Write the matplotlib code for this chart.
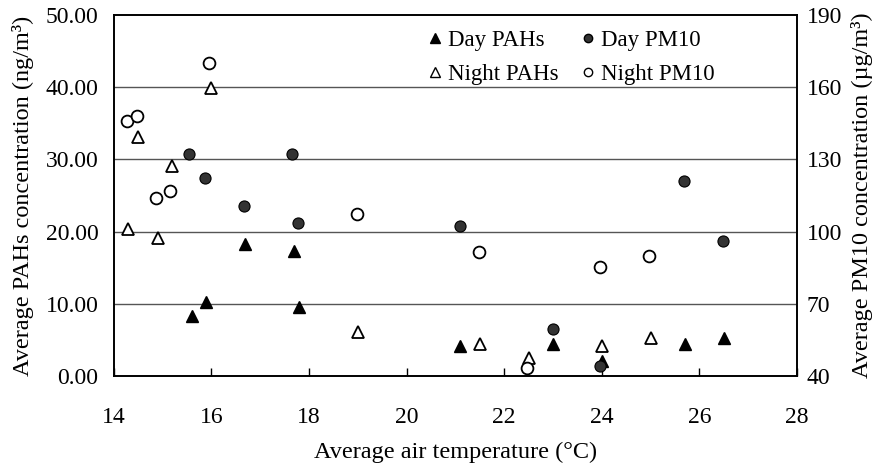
import matplotlib
matplotlib.use('Agg')
import matplotlib.pyplot as plt
from matplotlib.lines import Line2D

plt.rcParams['font.family'] = ['Liberation Serif', 'DejaVu Serif']

# Day / night PAHs (left axis, ng/m3)
day_pahs_t = [15.6, 15.9, 16.7, 17.7, 17.8, 21.1, 23.0, 24.0, 25.7, 26.5]
day_pahs = [8.3, 10.2, 18.3, 17.3, 9.5, 4.1, 4.4, 2.1, 4.4, 5.2]
night_pahs_t = [14.3, 14.9, 14.5, 15.2, 16.0, 19.0, 21.5, 22.5, 24.0, 25.0]
night_pahs = [20.3, 19.1, 33.1, 29.1, 39.9, 6.1, 4.4, 2.5, 4.2, 5.2]

# Day / night PM10 (right axis, ug/m3)
day_pm_t = [15.55, 15.88, 16.67, 17.66, 17.77, 21.09, 25.69, 26.48, 22.99, 23.97]
day_pm = [132.2, 122.1, 110.5, 132.2, 103.4, 102.3, 121.0, 96.2, 59.4, 44.2]
night_pm_t = [14.27, 14.48, 15.95, 14.87, 15.16, 18.98, 21.48, 23.97, 24.97, 22.47]
night_pm = [145.7, 148.0, 169.9, 114.0, 116.7, 107.4, 91.4, 85.2, 89.9, 43.2]

fig = plt.figure(figsize=(8.74, 4.63), dpi=100)
ax = fig.add_axes([0.13, 0.188, 0.782, 0.78])
ax2 = ax.twinx()

ax.set_xlim(14, 28)
ax.set_ylim(0, 50)
ax2.set_ylim(40, 190)

for v in [10, 20, 30, 40]:
    ax.axhline(v, color='#555555', lw=1.0, zorder=0)

ms = 8.5
ax.plot(day_pahs_t, day_pahs, linestyle='none', marker='^', ms=ms,
        mfc='black', mec='black', zorder=3)
ax.plot(night_pahs_t, night_pahs, linestyle='none', marker='^', ms=ms,
        mfc='white', mec='black', mew=1.3, zorder=3)
ax2.plot(night_pm_t, night_pm, linestyle='none', marker='o', ms=ms,
         mfc='white', mec='black', mew=1.3, zorder=3)
ax2.plot(day_pm_t, day_pm, linestyle='none', marker='o', ms=ms - 0.5,
         mfc='#333333', mec='black', mew=0.8, zorder=3)

ax.set_xticks(range(14, 29, 2))
ax.set_yticks(range(0, 51, 10))
ax.set_yticklabels(['%.2f' % v for v in range(0, 51, 10)])
ax2.set_yticks(range(40, 191, 30))

ax.tick_params(axis='x', direction='in', length=6, width=1, labelsize=17, pad=22)
ax.tick_params(axis='y', length=0, labelsize=17, pad=11)
ax2.tick_params(axis='y', length=0, labelsize=17, pad=7)

for a in (ax, ax2):
    for s in a.spines.values():
        s.set_linewidth(1.2)
        s.set_color('black')

ax.set_xlabel('Average air temperature (°C)', fontsize=17.5, labelpad=10)
ax.set_ylabel('Average PAHs concentration (ng/m³)', fontsize=17.5, labelpad=8)
ax2.set_ylabel('Average PM10 concentration (µg/m³)', fontsize=17.5, labelpad=6)

handles = [
    Line2D([], [], linestyle='none', marker='^', ms=7, mfc='black', mec='black'),
    Line2D([], [], linestyle='none', marker='^', ms=7, mfc='white', mec='black'),
    Line2D([], [], linestyle='none', marker='o', ms=6, mfc='#333333', mec='black'),
    Line2D([], [], linestyle='none', marker='o', ms=6, mfc='white', mec='black'),
]
labels = ['Day PAHs', 'Night PAHs', 'Day PM10', 'Night PM10']
ax2.legend(handles, labels, ncol=2, frameon=False, fontsize=16.5,
           loc='upper left', bbox_to_anchor=(0.43, 1.015),
           handlelength=0.6, handletextpad=0.25, columnspacing=1.0,
           labelspacing=0.55)

fig.savefig('out.png', dpi=100)
